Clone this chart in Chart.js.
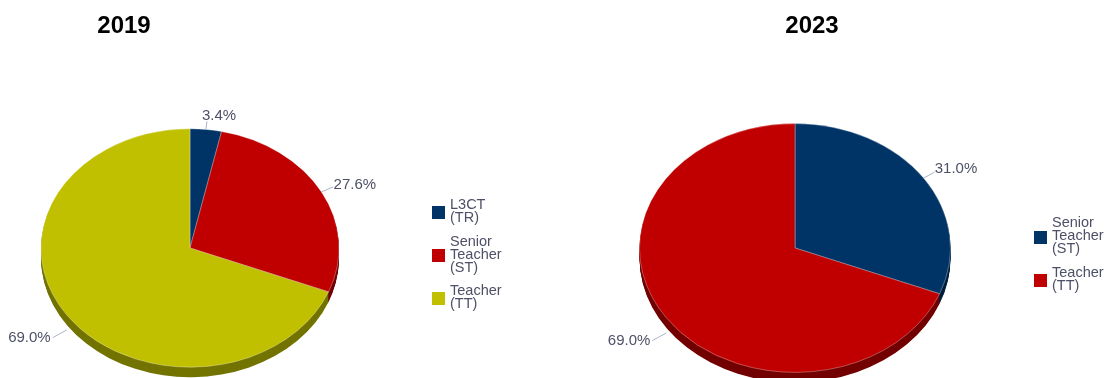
<!DOCTYPE html>
<html>
<head>
<meta charset="utf-8">
<title>Staff by grade, 2019 and 2023</title>
<script src="https://cdn.jsdelivr.net/npm/chart.js@4.4.1/dist/chart.umd.min.js"></script>
<style>
  html, body { margin: 0; padding: 0; background: #fff; overflow: hidden; }
  body { width: 1107px; height: 378px; position: relative; }
  canvas { position: absolute; top: 0; }
  #chart2019 { left: 0; }
  #chart2023 { left: 553px; }
</style>
</head>
<body>
<canvas id="chart2019" width="553" height="420"></canvas>
<canvas id="chart2023" width="554" height="420"></canvas>
<script>
// share of staff per grade (%)
const labels2019 = ['L3CT (TR)', 'Senior Teacher (ST)', 'Teacher (TT)'];
const values2019 = [3.4, 27.6, 69.0];
const colors2019 = ['#003366', '#c00000', '#c0c000'];
const sides2019 = ['#001f3d', '#730000', '#737300'];

const labels2023 = ['Senior Teacher (ST)', 'Teacher (TT)'];
const values2023 = [31.0, 69.0];
const colors2023 = ['#003366', '#c00000'];
const sides2023 = ['#001f3d', '#730000'];

const TILT = 0.8;   // vertical squash of the pie
const DEPTH = 10;   // height of the extruded side
const TEXT = '#4d5066';
const FONT = '"Liberation Sans", Arial, sans-serif';

function tilt(ctx, p, dy) {
    ctx.translate(p.x, p.y + dy);
    ctx.scale(1, TILT);
    ctx.translate(-p.x, -p.y);
}

function arcProps(arc) {
    return arc.getProps(['x', 'y', 'startAngle', 'endAngle', 'outerRadius'], true);
}

// draws the darker side of each slice, then squashes the real slices
const tiltPlugin = {
    id: 'tilt',
    beforeDatasetsDraw(chart, args, opts) {
        const ctx = chart.ctx;
        const arcs = chart.getDatasetMeta(0).data;
        for (let d = DEPTH; d > 0; d--) {
            arcs.forEach((arc, i) => {
                const p = arcProps(arc);
                ctx.save();
                tilt(ctx, p, d);
                ctx.beginPath();
                ctx.moveTo(p.x, p.y);
                ctx.arc(p.x, p.y, p.outerRadius, p.startAngle, p.endAngle);
                ctx.closePath();
                ctx.fillStyle = opts.sideColors[i];
                ctx.fill();
                ctx.restore();
            });
        }
        ctx.save();
        tilt(ctx, arcProps(arcs[0]), 0);
    },
    afterDatasetsDraw(chart) {
        chart.ctx.restore();
    }
};

// percentage labels outside the pie with short connectors
const outLabelPlugin = {
    id: 'outLabels',
    afterDraw(chart) {
        const ctx = chart.ctx;
        const values = chart.data.datasets[0].data;
        ctx.save();
        ctx.font = '15px ' + FONT;
        ctx.fillStyle = TEXT;
        ctx.strokeStyle = '#aab4c8';
        ctx.lineWidth = 1;
        ctx.textBaseline = 'middle';
        chart.getDatasetMeta(0).data.forEach((arc, i) => {
            const p = arcProps(arc);
            const a = (p.startAngle + p.endAngle) / 2;
            const cos = Math.cos(a), sin = Math.sin(a);
            const front = sin > 0;
            const px = p.x + p.outerRadius * cos;
            const py = p.y + TILT * p.outerRadius * sin + (front ? DEPTH + 5 : 0);
            let ux = cos, uy = TILT * sin;
            const n = Math.hypot(ux, uy);
            ux /= n; uy /= n;
            const len = front ? 16 : 13 - 5 * Math.pow(Math.abs(uy), 3);
            const ex = px + len * ux, ey = py + len * uy;
            ctx.beginPath();
            ctx.moveTo(px, py);
            ctx.lineTo(ex, ey);
            ctx.stroke();
            const text = values[i].toFixed(1) + '%';
            const ty = front ? ey : ey + uy * 6;
            if (ux >= 0) {
                ctx.textAlign = 'left';
                ctx.fillText(text, ex + 1 - (1 - ux) * 7, ty);
            } else {
                ctx.textAlign = 'right';
                ctx.fillText(text, ex - 2, ty);
            }
        });
        ctx.restore();
    }
};

function wrap(ctx, text, maxWidth) {
    const lines = [];
    let line = '';
    text.split(' ').forEach(word => {
        const test = line ? line + ' ' + word : word;
        if (line && ctx.measureText(test).width > maxWidth) {
            lines.push(line);
            line = word;
        } else {
            line = test;
        }
    });
    if (line) lines.push(line);
    return lines;
}

// legend to the right of the pie, labels wrapped onto several lines
const sideLegendPlugin = {
    id: 'sideLegend',
    afterDraw(chart, args, opts) {
        const ctx = chart.ctx;
        const ds = chart.data.datasets[0];
        const lh = 13, gap = 10.5, box = 13;
        ctx.save();
        ctx.font = '14.5px ' + FONT;
        const items = chart.data.labels.map(l => wrap(ctx, l, opts.maxWidth));
        const total = items.reduce((s, it) => s + it.length * lh, 0) + gap * (items.length - 1);
        let y = opts.centerY - total / 2;
        items.forEach((lines, i) => {
            const h = lines.length * lh;
            ctx.fillStyle = ds.backgroundColor[i];
            ctx.fillRect(opts.x, Math.round(y + h / 2 - box / 2 + 2), box, box);
            ctx.fillStyle = TEXT;
            ctx.textAlign = 'left';
            ctx.textBaseline = 'alphabetic';
            lines.forEach((line, j) => ctx.fillText(line, opts.x + 18, y + j * lh + 11.5));
            y += h + gap;
        });
        ctx.restore();
    }
};

const headingPlugin = {
    id: 'heading',
    afterDraw(chart, args, opts) {
        const ctx = chart.ctx;
        ctx.save();
        ctx.font = 'bold 24px ' + FONT;
        ctx.fillStyle = '#000';
        ctx.textAlign = 'center';
        ctx.textBaseline = 'middle';
        ctx.fillText(opts.text, opts.x, 26);
        ctx.restore();
    }
};

function makePie(id, labels, values, colors, sides, cfg) {
    return new Chart(document.getElementById(id), {
        type: 'pie',
        data: {
            labels: labels,
            datasets: [{
                data: values,
                backgroundColor: colors,
                borderColor: 'rgba(255,255,255,0.35)',
                borderWidth: 1,
                radius: cfg.radius,
                clip: false
            }]
        },
        options: {
            responsive: false,
            animation: false,
            events: [],
            layout: { padding: cfg.padding },
            plugins: {
                legend: { display: false },
                tooltip: { enabled: false },
                tilt: { sideColors: sides },
                sideLegend: { x: cfg.legendX, centerY: 253.5, maxWidth: 50 },
                heading: { text: cfg.title, x: cfg.titleX }
            }
        },
        plugins: [tiltPlugin, outLabelPlugin, sideLegendPlugin, headingPlugin]
    });
}

makePie('chart2019', labels2019, values2019, colors2019, sides2019, {
    title: '2019', titleX: 124, legendX: 432, radius: 149,
    padding: { left: 41, right: 214, top: 99, bottom: 23 }
});

makePie('chart2023', labels2023, values2023, colors2023, sides2023, {
    title: '2023', titleX: 259, legendX: 481, radius: 155.5,
    padding: { left: 87, right: 157, top: 93, bottom: 17 }
});
</script>
</body>
</html>
